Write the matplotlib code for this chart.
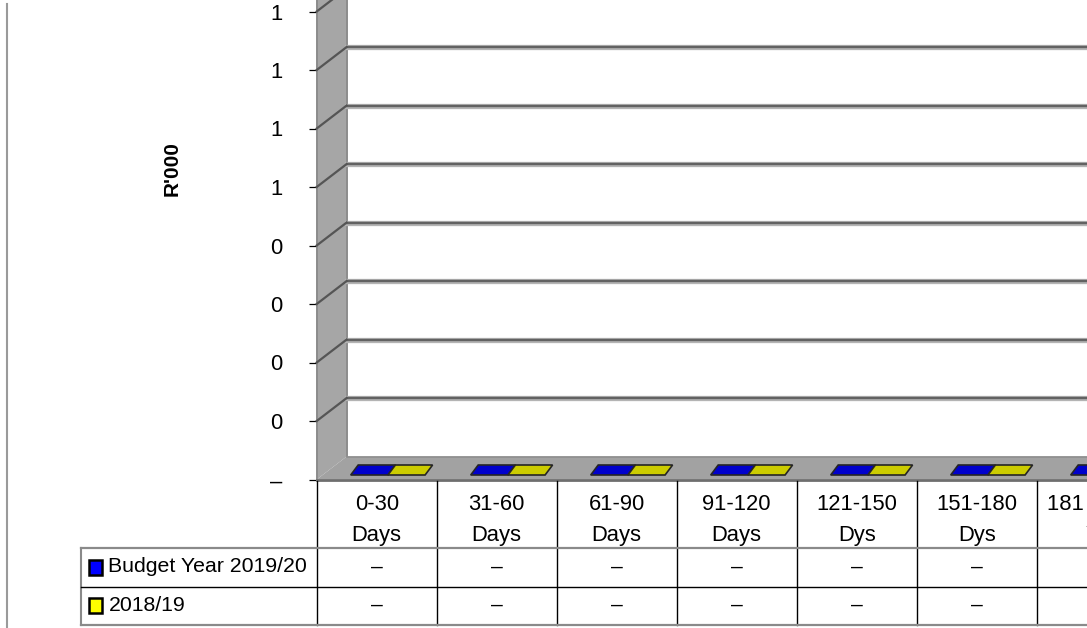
import math
import numpy as np
import matplotlib
matplotlib.use("Agg")
import matplotlib.pyplot as plt
from matplotlib.colors import to_rgb
from matplotlib.patches import Polygon, Rectangle
from matplotlib.lines import Line2D
from matplotlib.transforms import IdentityTransform

# Debtors age analysis (R'000)
categories = ["0-30\nDays", "31-60\nDays", "61-90\nDays", "91-120\nDays",
              "121-150\nDys", "151-180\nDys", "181 Dys-1\nYr", "Over\n1Yr"]
series_names = ["Budget Year 2019/20", "2018/19"]
budget_2019 = [0, 0, 0, 0, 0, 0, 0, 0]
actual_2018 = [0, 0, 0, 0, 0, 0, 0, 0]
series_colors = ["#0000ff", "#ffff00"]
y_ticks = [0.0, 0.1, 0.2, 0.3, 0.4, 0.5, 0.6, 0.7, 0.8]
y_top = 1.0

W, H = 1087, 628
FS = 15.3
plt.rcParams['font.family'] = ['Liberation Sans', 'DejaVu Sans']


def fmt(v):
    # Excel style "#,##0;-#,##0;–"
    if abs(v) < 1e-9:
        return "\u2013"
    return f"{math.floor(v + 0.5):,}"


def shade(c, f=0.8):
    return tuple(f * ch for ch in to_rgb(c))


fig = plt.figure(figsize=(W / 100, H / 100), dpi=100)
fig.patch.set_facecolor("white")

n = len(categories)
col_w = 120.0
x0_px = 316.7
zero_px = 479.5
unit_px = 585.0

ax = fig.add_axes([x0_px / W, (H - zero_px) / H, n * col_w / W, unit_px / H])
ax.set_xlim(0, n)
ax.set_ylim(0, y_top)
ax.set_facecolor("none")
for s in ax.spines.values():
    s.set_visible(False)
ax.set_xticks([])
ax.set_yticks(y_ticks)
ax.set_yticklabels([fmt(v) for v in y_ticks])
ax.tick_params(axis="y", direction="out", length=5.8, width=0.9,
               pad=18.8, labelsize=FS + 0.5, colors="black")

# 3-D look: walls and floor are pushed back by a fixed depth vector (pixels)
WALL = np.array([30.0, 23.0])
BAR_FRONT = np.array([4.0, 4.5])
BAR_BACK = np.array([11.5, 14.5])
IDT = IdentityTransform()


def proj(x, y, off=(0.0, 0.0)):
    return ax.transData.transform((x, y)) + np.asarray(off)


def poly(pts, **kw):
    ax.add_patch(Polygon(pts, closed=True, transform=IDT, clip_on=False, **kw))


def seg(p, q, **kw):
    ax.add_line(Line2D([p[0], q[0]], [p[1], q[1]], transform=IDT,
                       clip_on=False, **kw))


# side wall
poly([proj(0, 0), proj(0, 0, WALL), proj(0, y_top, WALL), proj(0, y_top)],
     facecolor="#a6a6a6", edgecolor="none", zorder=1)
seg(proj(0, 0), proj(0, y_top), color="#8c8c8c", lw=1.4, zorder=2)
seg(proj(0, 0, WALL), proj(0, y_top, WALL), color="#8c8c8c", lw=1.4, zorder=2)

# gridlines on the back wall and across the side wall
grid_vals = y_ticks[1:] + [0.9, y_top]
for v in grid_vals:
    seg(proj(0, v, WALL), proj(n, v, WALL), color="#b4b4b4", lw=3.8, zorder=2)
    seg(proj(0, v, WALL), proj(n, v, WALL), color="#626262", lw=1.7, zorder=3)
    seg(proj(0, v), proj(0, v, WALL), color="#555555", lw=1.6, zorder=3)

# floor
poly([proj(0, 0), proj(n, 0), proj(n, 0, WALL), proj(0, 0, WALL)],
     facecolor="#a2a2a2", edgecolor="none", zorder=4)
seg(proj(0, 0, WALL), proj(n, 0, WALL), color="#8e8e8e", lw=1.2, zorder=4)
seg(proj(0, 0), proj(n, 0), color="#6e6e6e", lw=2.0, zorder=5)

# columns (top faces sit at their value)
bar_w = 0.31
group_c = 0.56
for k, vals in enumerate([budget_2019, actual_2018]):
    for i, v in enumerate(vals):
        xa = i + group_c + (k - 1) * bar_w
        xb = xa + bar_w
        poly([proj(xa, v, BAR_FRONT), proj(xb, v, BAR_FRONT),
              proj(xb, v, BAR_BACK), proj(xa, v, BAR_BACK)],
             facecolor=shade(series_colors[k]), edgecolor="#262626", lw=1.2,
             joinstyle="miter", zorder=6)

fig.text(172.5 / W, 1 - 169 / H, "R'000", rotation=90, ha="center",
         va="center", fontsize=15, fontweight="bold")

# data table under the plot
row_h = [67, 39, 38]
edges = np.concatenate([[0], np.cumsum(row_h)])
tab_top = 480.5
tab = fig.add_axes([x0_px / W, (H - tab_top - edges[-1]) / H,
                    n * col_w / W, edges[-1] / H])
tab.set_xlim(0, n)
tab.set_ylim(edges[-1], 0)
tab.axis("off")

lab_x = (80.7 - x0_px) / col_w
for i in range(n + 1):
    tab.plot([i, i], [0, edges[-1]], color="black", lw=1.0, clip_on=False)
tab.plot([lab_x, lab_x], [edges[1], edges[-1]], color="#8a8a8a", lw=1.5,
         clip_on=False)
tab.plot([lab_x, n], [edges[1], edges[1]], color="#8a8a8a", lw=1.6, clip_on=False)
tab.plot([lab_x, n], [edges[2], edges[2]], color="black", lw=1.0, clip_on=False)
tab.plot([lab_x, n], [edges[3], edges[3]], color="#8a8a8a", lw=1.6, clip_on=False)

for i, c in enumerate(categories):
    tab.text(i + 0.5, 39.5, c, ha="center", va="center",
             fontsize=FS + 0.5, linespacing=1.66, clip_on=False)

key_x = (88.5 - x0_px) / col_w
key_w = 13.0 / col_w
for r, (name, vals) in enumerate(zip(series_names, [budget_2019, actual_2018])):
    mid = (edges[r + 1] + edges[r + 2]) / 2
    tab.add_patch(Rectangle((key_x, mid - 7.5), key_w, 15,
                            facecolor=series_colors[r], edgecolor="black",
                            lw=1.8, clip_on=False))
    tab.text((108.5 - x0_px) / col_w, mid, name, ha="left", va="center",
             fontsize=FS, clip_on=False)
    for i, v in enumerate(vals):
        tab.text(i + 0.5, mid, fmt(v), ha="center", va="center",
                 fontsize=FS, clip_on=False)

# page rule on the left
fig.add_artist(Line2D([7 / W, 7 / W], [1 - 4 / H, 0.0],
                      transform=fig.transFigure, color="#9a9a9a", lw=1.5))

fig.savefig("out.png", dpi=100)
